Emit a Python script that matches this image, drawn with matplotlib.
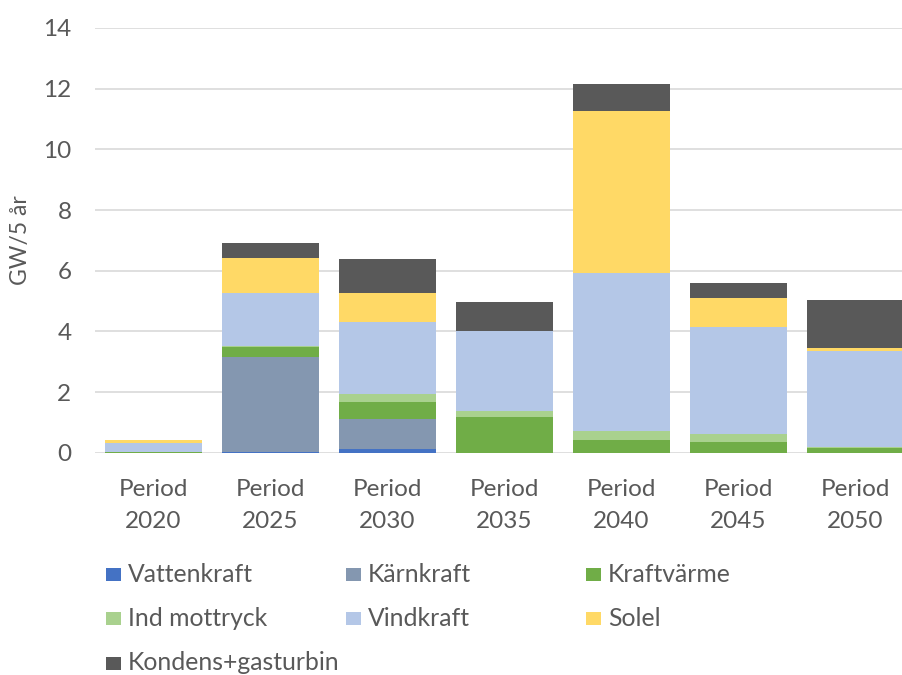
import matplotlib
matplotlib.use("Agg")
import matplotlib.pyplot as plt
from matplotlib.patches import Rectangle
import numpy as np

plt.rcParams['font.family'] = ['Lato', 'DejaVu Sans']

periods = ["Period\n2020", "Period\n2025", "Period\n2030", "Period\n2035",
           "Period\n2040", "Period\n2045", "Period\n2050"]

series_names = ["Vattenkraft", "Kärnkraft", "Kraftvärme", "Ind mottryck",
                "Vindkraft", "Solel", "Kondens+gasturbin"]

vattenkraft = [0.00, 0.03, 0.12, 0.00, 0.00, 0.00, 0.00]
karnkraft   = [0.00, 3.13, 0.99, 0.00, 0.00, 0.00, 0.00]
kraftvarme  = [0.02, 0.31, 0.57, 1.19, 0.42, 0.35, 0.17]
ind_mottryck = [0.00, 0.05, 0.25, 0.17, 0.31, 0.28, 0.03]
vindkraft   = [0.29, 1.73, 2.37, 2.66, 5.18, 3.51, 3.16]
solel       = [0.11, 1.17, 0.98, 0.00, 5.36, 0.97, 0.10]
kondens     = [0.00, 0.50, 1.09, 0.96, 0.89, 0.50, 1.59]

series = [vattenkraft, karnkraft, kraftvarme, ind_mottryck, vindkraft, solel, kondens]
colors = ["#4472C4", "#8497B0", "#70AD47", "#A9D18E", "#B4C7E7", "#FFD966", "#595959"]

yticks = [0, 2, 4, 6, 8, 10, 12, 14]

W, H = 902, 675
fig = plt.figure(figsize=(W / 100, H / 100), dpi=100)

# plot area in pixels: left 95, right 914 (runs past the right edge), y0 at 452.7, y14 at 28
left_px, right_px, bottom_px, top_px = 95, 914, 452.7, 28
ax = fig.add_axes([left_px / W, 1 - bottom_px / H,
                   (right_px - left_px) / W, (bottom_px - top_px) / H])

x = np.arange(len(periods))
bottom = np.zeros(len(periods))
for vals, col, name in zip(series, colors, series_names):
    v = np.array(vals)
    ax.bar(x, v, width=0.835, bottom=bottom, color=col, label=name,
           edgecolor="none", zorder=3)
    bottom += v

ax.set_xlim(-0.5, len(periods) - 0.5)
ax.set_ylim(0, 14)
ax.set_yticks(yticks)
ax.set_yticklabels([str(t) for t in yticks])
ax.set_xticks(x)
ax.set_xticklabels(periods, linespacing=1.65)
ax.yaxis.grid(True, color="#D9D9D9", linewidth=1.2, zorder=0)
ax.set_axisbelow(True)
for s in ax.spines.values():
    s.set_visible(False)
ax.tick_params(axis="both", length=0, labelsize=17.5, labelcolor="#595959")
ax.tick_params(axis="y", pad=17)
ax.tick_params(axis="x", pad=19)

fig.text(21 / W, 1 - 240 / H, "GW/5 år", rotation=90, ha="center", va="center",
         fontsize=16.5, color="#595959")

# legend laid out row by row in three columns
col_x = [106, 346, 586]
row_y = [574, 618, 663]
for i, (name, col) in enumerate(zip(series_names, colors)):
    r, c = divmod(i, 3)
    mx, my = col_x[c], row_y[r]
    fig.add_artist(Rectangle(((mx) / W, 1 - (my + 6.5) / H), 15 / W, 13 / H,
                             transform=fig.transFigure, facecolor=col,
                             edgecolor="none"))
    fig.text((mx + 22) / W, 1 - my / H, name, ha="left", va="center",
             fontsize=17.8, color="#595959")

fig.savefig("out.png", dpi=100)
